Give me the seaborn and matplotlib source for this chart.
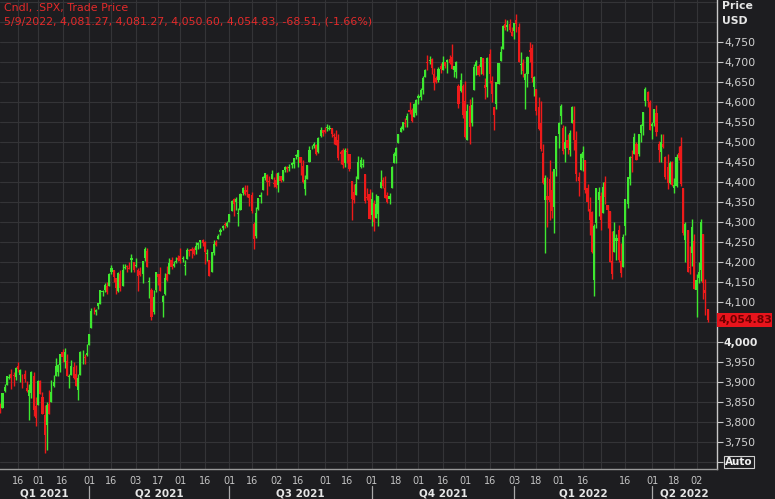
"""
Daily candlestick chart of the S&P 500 (.SPX), Feb 2021 - May 2022,
drawn in the dark terminal style. Saves out.png
"""

import matplotlib.pyplot as plt
import matplotlib.transforms as mtransforms
from matplotlib.patches import Rectangle
import numpy as np
import pandas as pd
import seaborn as sns

# US market holidays inside the window (no candle on these days)
holidays = ["2021-02-15", "2021-04-02", "2021-05-31", "2021-07-05",
            "2021-09-06", "2021-11-25", "2021-12-24", "2022-01-17",
            "2022-02-21", "2022-04-15"]

# one line per month, Feb 2021 .. May 2022
opens = [
    3840, 3836, 3878, 3893, 3911, 3920, 3917, 3912, 3939, 3918, 3915, 3921, 3885, 3865, 3873, 3915, 3839,
    3842, 3903, 3863, 3818, 3793, 3844, 3851, 3891, 3915, 3924, 3942, 3974, 3949, 3953, 3913, 3917, 3937, 3919, 3880, 3917, 3969, 3963, 3968,
    3993, 4034, 4075, 4074, 4089, 4096, 4124, 4130, 4141, 4140, 4175, 4179, 4159, 4128, 4170, 4139, 4185, 4188, 4185, 4206, 4199,
    4191, 4180, 4178, 4169, 4210, 4228, 4150, 4131, 4074, 4130, 4170, 4169, 4099, 4121, 4169, 4170, 4205, 4191, 4201, 4210,
    4216, 4207, 4191, 4207, 4229, 4233, 4233, 4229, 4242, 4249, 4256, 4249, 4220, 4205, 4174, 4223, 4249, 4257, 4274, 4285, 4293, 4290,
    4300, 4327, 4357, 4351, 4321, 4329, 4373, 4381, 4381, 4369, 4367, 4296, 4266, 4332, 4362, 4381, 4409, 4417, 4403, 4408, 4396,
    4406, 4392, 4415, 4404, 4429, 4438, 4436, 4442, 4446, 4464, 4462, 4462, 4441, 4383, 4407, 4450, 4484, 4490, 4493, 4475, 4514, 4529,
    4529, 4534, 4533, 4536, 4518, 4513, 4506, 4474, 4479, 4447, 4477, 4469, 4402, 4375, 4368, 4407, 4438, 4442, 4419, 4363, 4370,
    4317, 4348, 4310, 4319, 4384, 4406, 4385, 4368, 4358, 4386, 4448, 4464, 4497, 4524, 4532, 4547, 4554, 4579, 4580, 4563, 4573,
    4610, 4613, 4631, 4663, 4700, 4702, 4707, 4670, 4659, 4655, 4689, 4680, 4701, 4700, 4708, 4712, 4679, 4675, 4640, 4628, 4640,
    4602, 4504, 4590, 4548, 4631, 4690, 4691, 4687, 4710, 4643, 4637, 4720, 4653, 4587, 4594, 4645, 4703, 4733, 4796, 4788, 4795, 4776,
    4778, 4804, 4788, 4693, 4698, 4656, 4670, 4729, 4734, 4637, 4632, 4588, 4548, 4472, 4356, 4366, 4408, 4381, 4337, 4432,
    4520, 4566, 4535, 4482, 4505, 4480, 4547, 4554, 4506, 4413, 4430, 4460, 4456, 4385, 4332, 4324, 4156, 4298, 4354,
    4364, 4323, 4401, 4343, 4327, 4203, 4224, 4252, 4279, 4202, 4188, 4289, 4345, 4407, 4462, 4469, 4494, 4469, 4523, 4541, 4602, 4624, 4600,
    4541, 4547, 4573, 4494, 4474, 4494, 4462, 4437, 4397, 4449, 4385, 4390, 4473, 4490, 4385, 4256, 4279, 4187, 4223, 4253,
    4131, 4159, 4181, 4271, 4129, 4081.27,
]
highs = [
    3847, 3872, 3894, 3916, 3919, 3932, 3925, 3937, 3950, 3933, 3921, 3930, 3902, 3895, 3928, 3926, 3862,
    3904, 3906, 3874, 3843, 3851, 3881, 3904, 3918, 3960, 3944, 3970, 3982, 3984, 3970, 3921, 3955, 3950, 3943, 3919, 3978, 3981, 3969, 3995,
    4020, 4084, 4087, 4083, 4098, 4129, 4131, 4148, 4151, 4173, 4192, 4180, 4160, 4175, 4179, 4195, 4194, 4193, 4201, 4219, 4199,
    4210, 4186, 4187, 4202, 4238, 4236, 4163, 4135, 4131, 4174, 4171, 4187, 4117, 4172, 4189, 4210, 4213, 4202, 4213, 4218,
    4235, 4216, 4204, 4234, 4233, 4237, 4237, 4249, 4249, 4255, 4258, 4252, 4233, 4205, 4226, 4255, 4256, 4271, 4286, 4293, 4300, 4302,
    4320, 4355, 4359, 4362, 4335, 4372, 4387, 4393, 4393, 4370, 4376, 4301, 4337, 4359, 4375, 4415, 4422, 4419, 4415, 4430, 4412,
    4422, 4424, 4416, 4430, 4441, 4439, 4446, 4449, 4461, 4469, 4480, 4462, 4454, 4418, 4442, 4489, 4493, 4501, 4495, 4513, 4538, 4531,
    4538, 4546, 4542, 4536, 4522, 4530, 4521, 4479, 4485, 4486, 4486, 4471, 4402, 4394, 4416, 4466, 4463, 4457, 4419, 4385, 4383,
    4376, 4356, 4369, 4365, 4430, 4413, 4415, 4375, 4373, 4440, 4476, 4488, 4521, 4540, 4551, 4560, 4572, 4599, 4584, 4597, 4608,
    4621, 4636, 4664, 4683, 4718, 4714, 4709, 4684, 4664, 4688, 4697, 4714, 4701, 4708, 4717, 4744, 4691, 4702, 4646, 4673, 4646,
    4652, 4595, 4608, 4612, 4694, 4706, 4695, 4713, 4710, 4660, 4712, 4732, 4666, 4587, 4651, 4698, 4741, 4792, 4807, 4805, 4808, 4787,
    4797, 4819, 4797, 4725, 4707, 4673, 4714, 4749, 4744, 4666, 4632, 4612, 4602, 4494, 4418, 4412, 4454, 4428, 4432, 4516,
    4550, 4595, 4542, 4540, 4521, 4531, 4589, 4589, 4527, 4426, 4473, 4490, 4456, 4395, 4363, 4327, 4295, 4385, 4388,
    4375, 4401, 4416, 4343, 4327, 4277, 4300, 4269, 4292, 4248, 4271, 4358, 4412, 4465, 4481, 4522, 4501, 4521, 4546, 4576, 4637, 4627, 4604,
    4549, 4583, 4593, 4503, 4521, 4521, 4464, 4471, 4453, 4453, 4411, 4471, 4489, 4513, 4386, 4300, 4279, 4240, 4308, 4270,
    4169, 4200, 4308, 4271, 4158, 4081.27,
]
lows = [
    3823, 3836, 3874, 3893, 3907, 3883, 3890, 3905, 3924, 3901, 3885, 3900, 3874, 3805, 3860, 3814, 3789,
    3842, 3869, 3819, 3723, 3730, 3819, 3851, 3887, 3915, 3915, 3924, 3949, 3935, 3914, 3885, 3917, 3908, 3889, 3854, 3917, 3944, 3944, 3966,
    3993, 4034, 4069, 4068, 4082, 4095, 4114, 4124, 4120, 4140, 4171, 4150, 4119, 4126, 4127, 4139, 4182, 4176, 4182, 4176, 4175,
    4188, 4128, 4165, 4147, 4202, 4188, 4111, 4056, 4069, 4125, 4143, 4127, 4062, 4118, 4152, 4170, 4182, 4188, 4197, 4203,
    4197, 4199, 4168, 4207, 4216, 4211, 4218, 4220, 4233, 4234, 4241, 4195, 4203, 4165, 4174, 4217, 4240, 4257, 4267, 4280, 4286, 4288,
    4300, 4327, 4315, 4330, 4290, 4329, 4367, 4368, 4363, 4341, 4323, 4233, 4259, 4331, 4347, 4381, 4405, 4367, 4389, 4408, 4387,
    4385, 4374, 4399, 4402, 4424, 4425, 4427, 4436, 4435, 4457, 4437, 4417, 4398, 4367, 4407, 4450, 4482, 4486, 4468, 4473, 4513, 4515,
    4522, 4527, 4530, 4513, 4494, 4492, 4456, 4446, 4435, 4438, 4447, 4427, 4306, 4347, 4367, 4407, 4436, 4437, 4347, 4356, 4307,
    4289, 4278, 4310, 4290, 4384, 4386, 4360, 4347, 4345, 4386, 4448, 4448, 4497, 4524, 4529, 4538, 4538, 4570, 4551, 4563, 4567,
    4595, 4604, 4621, 4662, 4681, 4694, 4670, 4630, 4648, 4650, 4672, 4679, 4684, 4672, 4694, 4682, 4662, 4659, 4586, 4625, 4560,
    4511, 4504, 4496, 4541, 4631, 4667, 4665, 4671, 4667, 4607, 4612, 4648, 4600, 4531, 4583, 4645, 4703, 4733, 4781, 4778, 4776, 4766,
    4758, 4775, 4699, 4671, 4663, 4582, 4638, 4701, 4651, 4614, 4568, 4531, 4477, 4396, 4222, 4288, 4305, 4309, 4273, 4415,
    4484, 4544, 4471, 4451, 4471, 4465, 4547, 4479, 4402, 4364, 4430, 4428, 4373, 4327, 4267, 4222, 4114, 4286, 4316,
    4280, 4323, 4345, 4284, 4199, 4157, 4224, 4206, 4201, 4162, 4187, 4267, 4335, 4392, 4425, 4469, 4455, 4465, 4501, 4517, 4589, 4588, 4530,
    4507, 4539, 4514, 4450, 4450, 4486, 4408, 4382, 4395, 4390, 4372, 4387, 4455, 4389, 4268, 4201, 4175, 4170, 4189, 4132,
    4063, 4148, 4153, 4107, 4067, 4050.60,
]
closes = [
    3830, 3872, 3887, 3916, 3911, 3910, 3916, 3935, 3933, 3931, 3914, 3907, 3877, 3881, 3925, 3829, 3811,
    3902, 3870, 3820, 3768, 3842, 3821, 3875, 3899, 3939, 3943, 3969, 3963, 3974, 3915, 3913, 3941, 3911, 3889, 3910, 3975, 3971, 3959, 3973,
    4020, 4078, 4074, 4080, 4097, 4129, 4128, 4142, 4125, 4170, 4185, 4163, 4135, 4173, 4135, 4180, 4188, 4187, 4183, 4211, 4181,
    4193, 4165, 4168, 4202, 4233, 4188, 4152, 4063, 4113, 4174, 4163, 4128, 4116, 4159, 4156, 4197, 4188, 4196, 4201, 4204,
    4202, 4208, 4193, 4230, 4227, 4227, 4220, 4239, 4247, 4255, 4247, 4224, 4222, 4166, 4225, 4246, 4242, 4266, 4281, 4291, 4292, 4298,
    4320, 4352, 4344, 4358, 4321, 4370, 4385, 4369, 4374, 4360, 4327, 4258, 4323, 4359, 4367, 4412, 4422, 4401, 4401, 4419, 4395,
    4387, 4423, 4403, 4429, 4437, 4432, 4437, 4448, 4461, 4468, 4480, 4448, 4400, 4406, 4442, 4480, 4486, 4496, 4470, 4509, 4529, 4523,
    4524, 4537, 4535, 4520, 4514, 4493, 4459, 4469, 4443, 4481, 4474, 4433, 4358, 4354, 4396, 4449, 4455, 4443, 4353, 4359, 4308,
    4357, 4300, 4346, 4364, 4400, 4391, 4361, 4351, 4364, 4438, 4471, 4486, 4520, 4536, 4550, 4545, 4566, 4575, 4552, 4596, 4605,
    4614, 4631, 4661, 4680, 4698, 4702, 4685, 4647, 4649, 4683, 4683, 4701, 4689, 4705, 4698, 4683, 4691, 4701, 4595, 4655, 4567,
    4513, 4577, 4538, 4592, 4687, 4701, 4667, 4712, 4669, 4634, 4710, 4669, 4621, 4568, 4649, 4697, 4726, 4791, 4786, 4793, 4779, 4766,
    4797, 4794, 4701, 4696, 4677, 4670, 4713, 4726, 4659, 4663, 4577, 4533, 4483, 4398, 4410, 4356, 4350, 4327, 4432, 4516,
    4547, 4589, 4477, 4501, 4484, 4522, 4587, 4504, 4419, 4402, 4471, 4475, 4380, 4349, 4305, 4226, 4289, 4385, 4374,
    4306, 4387, 4363, 4329, 4201, 4171, 4278, 4260, 4204, 4173, 4262, 4358, 4412, 4463, 4461, 4512, 4456, 4520, 4543, 4576, 4632, 4602, 4530,
    4546, 4583, 4525, 4481, 4500, 4488, 4413, 4397, 4447, 4393, 4392, 4462, 4459, 4394, 4272, 4296, 4175, 4184, 4288, 4132,
    4155, 4175, 4300, 4147, 4123, 4054.83,
]

# date ticks on the x axis; "" = tick without a label
tick_dates = ["2021-02-16", "2021-03-01", "2021-03-16", "2021-04-01",
              "2021-04-16", "2021-05-03", "2021-05-17", "2021-06-01",
              "2021-06-16", "2021-07-01", "2021-07-16", "2021-08-02",
              "2021-08-16", "2021-09-01", "2021-09-16", "2021-10-01",
              "2021-10-18", "2021-11-01", "2021-11-16", "2021-12-01",
              "2021-12-16", "2022-01-03", "2022-01-18", "2022-02-01",
              "2022-02-16", "2022-03-01", "2022-03-16", "2022-04-01",
              "2022-04-18", "2022-05-02"]
tick_labels = ["16", "01", "16", "01", "16", "03", "17", "01", "16", "01",
               "16", "02", "16", "01", "16", "01", "18", "01", "16", "01",
               "16", "03", "18", "01", "16", "", "16", "01", "18", "02"]

quarters = ["Q1 2021", "Q2 2021", "Q3 2021", "Q4 2021", "Q1 2022", "Q2 2022"]
quarter_starts = ["2021-04-01", "2021-07-01", "2021-10-01", "2022-01-03",
                  "2022-04-01"]

price_ticks = list(range(3700, 4751, 50))
last_price = 4054.83
header = ["Cndl, .SPX, Trade Price",
          "5/9/2022, 4,081.27, 4,081.27, 4,050.60, 4,054.83, -68.51, (-1.66%)"]

BG = "#1d1d20"
GRID = "#343437"
UP = "#3ee830"
DOWN = "#ee1a1a"
W, H = 775, 499


def _fy(py):
    """pixel row from the top -> figure fraction"""
    return 1 - py / H


def main():
    sns.set_theme(style="dark", rc={"axes.facecolor": BG,
                                    "figure.facecolor": BG})
    plt.rcParams["font.family"] = ["DejaVu Sans"]

    days = pd.bdate_range("2021-02-03", "2022-05-09")
    days = days[~days.isin(pd.to_datetime(holidays))]
    df = pd.DataFrame({"date": days, "open": opens, "high": highs,
                       "low": lows, "close": closes})
    df["x"] = np.arange(len(df))
    pos = {d.strftime("%Y-%m-%d"): i for i, d in enumerate(df["date"])}

    fig = plt.figure(figsize=(W / 100, H / 100), dpi=100)
    ax = fig.add_axes([0, _fy(469), 717 / W, 469 / H])
    xmin, xmax = -0.1, 322.2
    ax.set_xlim(xmin, xmax)
    ax.set_ylim(3682.5, 4855)

    # grid
    for lvl in range(3700, 4851, 50):
        ax.axhline(lvl, color=GRID, lw=0.8, zorder=0)
    tick_x = [pos[d] for d in tick_dates]
    for x in tick_x:
        ax.axvline(x, color=GRID, lw=0.8, zorder=0)

    # candles
    up = df["close"] >= df["open"]
    colors = np.where(up, UP, DOWN)
    bottom = df[["open", "close"]].min(axis=1)
    height = (df["close"] - df["open"]).abs().clip(lower=2)
    ax.vlines(df["x"], df["low"], df["high"], colors=colors, lw=1.0,
              zorder=2)
    ax.bar(df["x"], height, bottom=bottom, width=0.95, color=colors,
           linewidth=0, zorder=3)

    # axes cosmetics
    for side in ["left", "top"]:
        ax.spines[side].set_visible(False)
    ax.spines["right"].set_color("#c8c8c8")
    ax.spines["right"].set_linewidth(1.0)
    ax.spines["bottom"].set_color("#9a9a9a")
    ax.spines["bottom"].set_linewidth(1.0)

    ax.yaxis.tick_right()
    ax.set_yticks(price_ticks)
    ylabels = []
    for v in price_ticks:
        ylabels.append("" if v in (3700, 4050) else f"{v:,}")
    ax.set_yticklabels(ylabels)
    ax.tick_params(axis="y", direction="out", length=4, width=0.8,
                   color="#c8c8c8", labelsize=7.8, labelcolor="#d2d2d2",
                   pad=1)
    for t in ax.get_yticklabels():
        if t.get_text() == "4,000":
            t.set_fontweight("bold")
            t.set_color("#e8e8e8")

    ax.set_xticks(tick_x)
    ax.set_xticklabels(tick_labels)
    ax.tick_params(axis="x", direction="out", length=3, width=0.8,
                   color="#9a9a9a", labelsize=7, labelcolor="#c4c4c4",
                   pad=2)

    # quarter separators and labels under the date row
    trans = mtransforms.blended_transform_factory(ax.transData,
                                                  fig.transFigure)
    bounds = [xmin] + [pos[d] for d in quarter_starts] + [xmax]
    for b in bounds[1:-1]:
        ax.plot([b, b], [_fy(486), 0], color="#a8a8a8", lw=0.9,
                transform=trans, clip_on=False)
    for q, a, b in zip(quarters, bounds[:-1], bounds[1:]):
        ax.text((a + b) / 2, _fy(498.5), q, transform=trans, ha="center",
                va="bottom", fontsize=7.5, fontweight="bold",
                color="#e6e6e6", clip_on=False)

    # last price tag on the right axis
    tag_trans = mtransforms.blended_transform_factory(ax.transAxes,
                                                      ax.transData)
    ax.add_patch(Rectangle((1.0, last_price - 18), 55 / 717, 36,
                           transform=tag_trans, facecolor="#e8141c",
                           edgecolor="none", clip_on=False, zorder=5))
    ax.text(745 / 717, last_price, f"{last_price:,.2f}",
            transform=tag_trans, ha="center", va="center", fontsize=7.8,
            fontweight="bold", color="#6e0000", clip_on=False, zorder=6)

    # header and side texts
    fig.text(4 / W, _fy(8), header[0], ha="left", va="center",
             fontsize=7.9, color="#e42a2a")
    fig.text(4 / W, _fy(22), header[1], ha="left", va="center",
             fontsize=7.9, color="#e42a2a")
    fig.text(722 / W, _fy(6), "Price", ha="left", va="center",
             fontsize=7.8, fontweight="bold", color="#e6e6e6")
    fig.text(722 / W, _fy(21), "USD", ha="left", va="center",
             fontsize=7.8, fontweight="bold", color="#e6e6e6")
    fig.text(725 / W, _fy(462), "Auto", ha="left", va="center",
             fontsize=7.5, fontweight="bold", color="#f0f0f0",
             bbox=dict(facecolor="none", edgecolor="#d0d0d0", lw=0.8,
                       pad=1.0))

    fig.savefig("out.png", dpi=100, facecolor=BG)


if __name__ == "__main__":
    main()
